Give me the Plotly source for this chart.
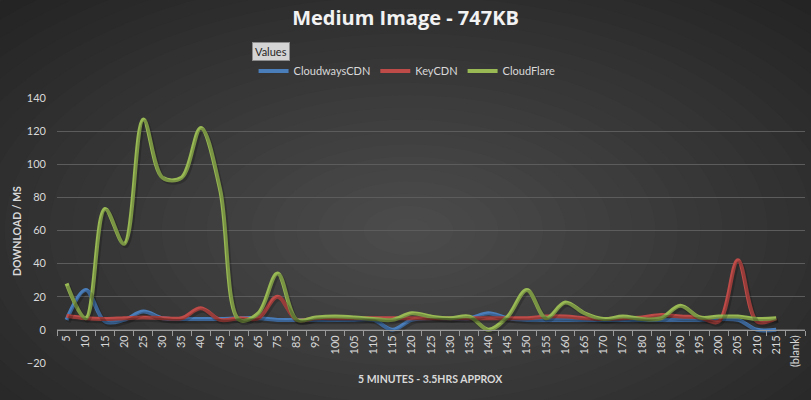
import plotly.graph_objects as go

categories = ["5", "10", "15", "20", "25", "30", "35", "40", "45", "55", "65", "75", "85", "95",
              "100", "105", "110", "115", "120", "125", "130", "135", "140", "145", "150", "155",
              "160", "165", "170", "175", "180", "185", "190", "195", "200", "205", "210", "215",
              "(blank)"]

cloudways = [6, 24, 5, 6, 11, 7, 6.5, 6.5, 6.5, 7, 7, 6, 6, 6,
             6, 6, 6, 0, 6, 7, 7, 7, 10, 7, 6, 6,
             6, 6, 6, 6, 6, 6, 6, 6, 6.5, 6, 0, 0,
             None]
keycdn = [8.5, 7, 6.5, 7, 7.5, 7, 7, 13, 6, 7, 7, 20, 6, 7,
          7, 7, 7, 7, 7, 7, 7, 7, 7, 7, 7, 8,
          8, 7, 6.5, 7, 7.5, 9, 8, 7.5, 5, 42, 5, 7,
          None]
cloudflare = [28, 7, 73, 52, 127, 92, 92, 122, 85, 6, 10, 34, 6, 7.5,
              8, 7.5, 6.5, 6, 10, 8, 7, 8, 0, 8, 24, 7,
              16.5, 10, 6.5, 8, 6.5, 7, 14.5, 7.5, 8, 8, 6.5, 7,
              None]

series = [("CloudwaysCDN", cloudways, "#4a7ebb"),
          ("KeyCDN", keycdn, "#be4b48"),
          ("CloudFlare", cloudflare, "#98b954")]

y_ticks = [-20, 0, 20, 40, 60, 80, 100, 120, 140]

FONT = "Lato"
TXT = "#d9d9d9"

fig = go.Figure()

# soft shadows (drawn on offset overlay axes)
for name, vals, col in series:
    fig.add_trace(go.Scatter(x=categories, y=vals, mode="lines", xaxis="x2", yaxis="y2",
                             line=dict(color="rgba(0,0,0,0.2)", width=4.5, shape="spline", smoothing=1),
                             showlegend=False, hoverinfo="skip"))

for name, vals, col in series:
    fig.add_trace(go.Scatter(x=categories, y=vals, mode="lines", name=name,
                             line=dict(color=col, width=4, shape="spline", smoothing=1),
                             connectgaps=False))

# radial background gradient
shapes = []
N = 26
center = (77, 77, 77)
edge = (36, 36, 36)
for k in range(N):
    t = 1 - k / N
    r = 0.78 * t
    c = tuple(int(round(center[i] + (edge[i] - center[i]) * t)) for i in range(3))
    shapes.append(dict(type="circle", xref="paper", yref="paper", layer="below",
                       x0=0.47 - r * 1.0, x1=0.47 + r * 1.0,
                       y0=0.5 - r * 1.55, y1=0.5 + r * 1.55,
                       fillcolor="rgb(%d,%d,%d)" % c, line=dict(width=0)))

n = len(categories)
fig.update_layout(
    width=811, height=400,
    margin=dict(l=57, r=6, t=98, b=37),
    paper_bgcolor="#262626",
    plot_bgcolor="rgba(0,0,0,0)",
    shapes=shapes,
    title=dict(text="<b>Medium Image - 747KB</b>", x=0.5, xanchor="center",
               y=1 - 18 / 400, yanchor="middle", yref="container",
               font=dict(family="Open Sans", size=20, color="#f2f2f2")),
    showlegend=True,
    legend=dict(orientation="h", x=0.468, xanchor="center", y=(363 - 71) / 265, yanchor="middle",
                font=dict(family=FONT, size=11, color=TXT), bgcolor="rgba(0,0,0,0)",
                itemwidth=30, tracegroupgap=0),
    xaxis=dict(type="category", categoryorder="array", categoryarray=categories,
               range=[-0.5, n - 0.5], anchor="free", position=20 / 160,
               showgrid=False, zeroline=False, showline=True, linecolor="#9a9a9a", linewidth=1,
               ticks="outside", tickson="boundaries", ticklen=5, tickcolor="#9a9a9a",
               tickangle=-90, tickfont=dict(family=FONT, size=11, color=TXT)),
    xaxis2=dict(type="category", categoryorder="array", categoryarray=categories,
                range=[-0.5 - 0.09, n - 0.5 - 0.09], overlaying="x", visible=False),
    yaxis=dict(range=[-20.05, 140.05], tickvals=y_ticks, showgrid=True, gridcolor="#5c5c5c",
               gridwidth=1, zeroline=False, showline=False, ticks="",
               ticklabelstandoff=10,
               tickfont=dict(family=FONT, size=11, color=TXT)),
    yaxis2=dict(range=[-20.05 + 1.3, 140.05 + 1.3], overlaying="y", visible=False),
    annotations=[
        dict(text="Values", xref="paper", yref="paper", x=(271 - 57) / 748, y=(363 - 51) / 265,
             xanchor="center", yanchor="middle",
             showarrow=False, font=dict(family=FONT, size=11, color="#262626"),
             bgcolor="#d4d4d4", bordercolor="#8c8c8c", borderwidth=1, borderpad=2),
        dict(text="<b>DOWNLOAD / MS</b>", xref="paper", yref="paper", x=(17 - 57) / 748,
             y=(363 - 231) / 265, xanchor="center", yanchor="middle", textangle=-90,
             showarrow=False, font=dict(family=FONT, size=10.5, color=TXT)),
        dict(text="<b>5 MINUTES - 3.5HRS APPROX</b>", xref="paper", yref="paper",
             x=(430 - 57) / 748, y=(363 - 379) / 265, xanchor="center", yanchor="middle",
             showarrow=False, font=dict(family=FONT, size=10.5, color=TXT)),
    ],
)

fig.write_html("out.html", config={"displayModeBar": False},
               post_script="document.body.style.margin='0';document.body.style.overflow='hidden';")
